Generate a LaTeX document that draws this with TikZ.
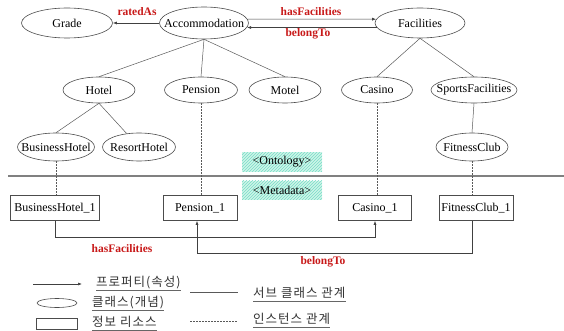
\documentclass[tikz,border=0pt]{standalone}
\usepackage{fontspec}
\setmainfont{Liberation Serif}
\newfontfamily\krfont[LetterSpace=8]{Noto Sans CJK KR}
\usetikzlibrary{shapes.geometric,arrows.meta,patterns}
\newcommand{\mb}[1]{\makebox[0pt]{#1}}
\definecolor{lblred}{RGB}{200,25,25}
\definecolor{hatchbg}{RGB}{205,245,232}
\definecolor{hatchfg}{RGB}{120,220,200}
\begin{document}
\begin{tikzpicture}[x=1pt,y=-1pt,
 cls/.style={ellipse, draw=black!70, line width=0.6pt, inner sep=0pt, minimum height=26pt, font=\fontsize{12}{14}\selectfont},
 res/.style={rectangle, draw=black!70, line width=0.6pt, inner sep=0pt, minimum height=25pt, font=\fontsize{12}{14}\selectfont},
 prop/.style={draw=black!75, line width=0.6pt, -{Latex[length=4pt,width=3pt]}},
 sub/.style={draw=black!65, line width=0.5pt},
 inst/.style={draw=black!65, line width=0.5pt, dash pattern=on 1.5pt off 1.5pt},
 plabel/.style={text=lblred, font=\bfseries\fontsize{11.5}{13}\selectfont, inner sep=0pt},
 layer/.style={fill=hatchbg, postaction={pattern=north east lines, pattern color=hatchfg}, inner sep=0pt, minimum width=80pt, minimum height=19pt, font=\fontsize{12}{14}\selectfont},
 kor/.style={font=\krfont\fontsize{12.5}{14}\selectfont, anchor=west, text=black!80, inner sep=0pt, text depth=3pt},
 uline/.style={draw=black!60, line width=0.7pt}
]
\useasboundingbox (0,0) rectangle (564,331);

% ontology classes
\node[cls, minimum width=91pt, minimum height=30pt] (grade) at (67,23) {\mb{Grade}};
\node[cls, minimum width=89pt, minimum height=32pt] (acc) at (204,23) {\mb{Accommodation}};
\node[cls, minimum width=90pt, minimum height=30pt] (fac) at (420,23) {\mb{Facilities}};
\node[cls, minimum width=72pt] (hotel) at (99,90) {\mb{Hotel}};
\node[cls, minimum width=73pt] (pension) at (201,90) {\mb{Pension}};
\node[cls, minimum width=72pt] (motel) at (285,90) {\mb{Motel}};
\node[cls, minimum width=71pt] (casino) at (377,90) {\mb{Casino}};
\node[cls, minimum width=86pt] (sports) at (474,90) {\mb{SportsFacilities}};
\node[cls, minimum width=77pt, minimum height=28pt] (bh) at (56,147) {\mb{BusinessHotel}};
\node[cls, minimum width=73pt, minimum height=28pt] (rh) at (139,147) {\mb{ResortHotel}};
\node[cls, minimum width=72pt, minimum height=28pt] (fc) at (472,147) {\mb{FitnessClub}};

% properties between classes
\draw[prop] (acc.west) -- (grade.east);
\node[plabel] (lrated) at (137,12) {ratedAs};
\draw[prop] (acc.5) -- (fac.175);
\node[plabel] (lhas) at (311,12) {hasFacilities};
\draw[prop] (fac.-174) -- (acc.-6);
\node[plabel] (lbel) at (308,34) {belongTo};

% subclass relations
\draw[sub] (acc.south) -- (hotel.north);
\draw[sub] (acc.south) -- (pension.north);
\draw[sub] (acc.south) -- (motel.north);
\draw[sub] (fac.south) -- (casino.north);
\draw[sub] (fac.south) -- (sports.north);
\draw[sub] (hotel.south) -- (bh.north);
\draw[sub] (hotel.south) -- (rh);
\draw[sub] (sports.south) -- (fc.north);

% layers
\node[layer] (onto) at (282,162) {\textless Ontology\textgreater};
\draw[line width=2pt, draw=black!50] (8,176) coordinate (sepL) -- (564,176) coordinate (sepR);
\node[layer] (meta) at (282,190) {\textless Metadata\textgreater};

% metadata resources
\node[res, minimum width=89pt] (bh1) at (55,208) {BusinessHotel\_1};
\node[res, minimum width=74pt] (p1) at (200,208) {Pension\_1};
\node[res, minimum width=73pt] (c1) at (375,208) {Casino\_1};
\node[res, minimum width=74pt] (fc1) at (476,208) {FitnessClub\_1};

% instance relations
\draw[inst] (bh.south) -- (bh.south |- bh1.north);
\draw[inst] (pension.south) -- (pension.south |- p1.north);
\draw[inst] (casino.south) -- (casino.south |- c1.north);
\draw[inst] (fc.south) -- (fc.south |- fc1.north);

% properties between resources
\draw[prop] (bh1.south) -- ++(0,16) -| (c1.south);
\node[plabel] (lhas2) at (122,249) {hasFacilities};
\draw[prop] ([xshift=-4pt]fc1.south) -- ++(0,32) -| ([xshift=-3pt]p1.south);
\node[plabel] (lbel2) at (323,262) {belongTo};

% legend
\coordinate (la1) at (33,284);
\coordinate (la2) at (82,284);
\draw[prop] (la1) -- (la2);
\node[kor] (t1) at (96,283) {프로퍼티(속성)};
\draw[uline] (t1.south west) -- (t1.south east);
\node[ellipse, draw=black!70, line width=0.6pt, inner sep=0pt, minimum width=40pt, minimum height=9pt] (lell) at (57,303) {};
\node[kor] (t2) at (92,303) {클래스(개념)};
\draw[uline] (t2.south west) -- (t2.south east);
\node[rectangle, draw=black!70, line width=0.6pt, inner sep=0pt, minimum width=41pt, minimum height=11pt] (lrect) at (57,324) {};
\node[kor] (t3) at (92,323) {정보 리소스};
\draw[uline] (t3.south west) -- (t3.south east);
\coordinate (ls1) at (190,292);
\coordinate (ls2) at (238,292);
\draw[sub] (ls1) -- (ls2);
\node[kor] (t4) at (253,294) {서브 클래스 관계};
\draw[uline] (t4.south west) -- (t4.south east);
\coordinate (ld1) at (190,321);
\coordinate (ld2) at (238,321);
\draw[inst] (ld1) -- (ld2);
\node[kor] (t5) at (253,320) {인스턴스 관계};
\draw[uline] (t5.south west) -- (t5.south east);
\end{tikzpicture}
\end{document}
